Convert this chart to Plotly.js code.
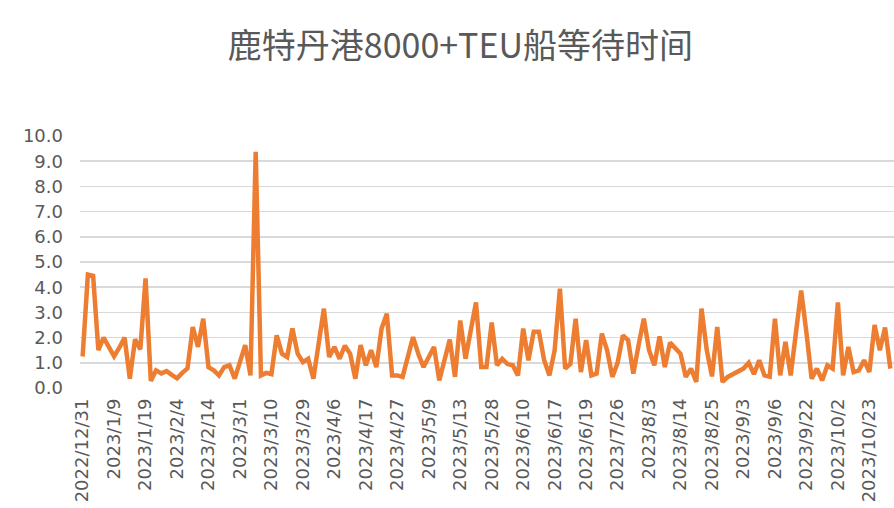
<!DOCTYPE html>
<html>
<head>
<meta charset="utf-8">
<script src="https://cdn.plot.ly/plotly-3.0.1.min.js"></script>
<style>
  html, body { margin: 0; padding: 0; background: #ffffff; overflow: hidden; }
  #chart { width: 894px; height: 508px; }
</style>
</head>
<body>
<div id="chart"></div>
<script>
// Tick labels shown on the category axis (every 6th observation)
const tickLabels = [
  "2022/12/31", "2023/1/9", "2023/1/19", "2023/2/4", "2023/2/14", "2023/3/1",
  "2023/3/10", "2023/3/29", "2023/4/6", "2023/4/17", "2023/4/27", "2023/5/9",
  "2023/5/13", "2023/5/28", "2023/6/10", "2023/6/17", "2023/6/19", "2023/7/26",
  "2023/8/3", "2023/8/14", "2023/8/25", "2023/9/3", "2023/9/6", "2023/9/22",
  "2023/10/2", "2023/10/23"
];
const labelEvery = 6;

// Waiting time (days) of 8000+TEU vessels at Rotterdam
const waitDays = [
  1.25, 4.5, 4.45, 1.5, 2.0, 1.65, 1.26, 1.6, 2.0, 0.37,
  1.93, 1.53, 4.35, 0.28, 0.7, 0.58, 0.67, 0.52, 0.38, 0.6,
  0.78, 2.42, 1.63, 2.75, 0.83, 0.7, 0.5, 0.83, 0.9, 0.37,
  1.0, 1.7, 0.5, 9.37, 0.5, 0.6, 0.55, 2.09, 1.36, 1.23,
  2.36, 1.36, 1.03, 1.16, 0.37, 1.7, 3.15, 1.23, 1.63, 1.16,
  1.68, 1.36, 0.37, 1.7, 0.9, 1.5, 0.83, 2.36, 2.95, 0.5,
  0.5, 0.44, 1.23, 2.02, 1.36, 0.83, 1.23, 1.63, 0.3, 1.1,
  1.92, 0.44, 2.68, 1.16, 2.36, 3.4, 0.83, 0.83, 2.6, 0.9,
  1.16, 0.95, 0.9, 0.5, 2.36, 1.1, 2.23, 2.23, 1.1, 0.5,
  1.5, 3.94, 0.77, 0.96, 2.75, 0.63, 1.9, 0.5, 0.57, 2.16,
  1.5, 0.44, 1.0, 2.09, 1.9, 0.57, 1.7, 2.75, 1.5, 0.9,
  2.05, 0.83, 1.8, 1.6, 1.36, 0.44, 0.77, 0.24, 3.15, 1.5,
  0.46, 2.42, 0.24, 0.44, 0.55, 0.63, 0.77, 1.0, 0.55, 1.1,
  0.5, 0.45, 2.75, 0.5, 1.83, 0.5, 2.15, 3.87, 2.2, 0.37,
  0.77, 0.3, 0.9, 0.77, 3.4, 0.5, 1.63, 0.63, 0.7, 1.1,
  0.63, 2.5, 1.5, 2.4, 0.77
];

const titleText = "鹿特丹港8000+TEU船等待时间";

const xIdx = waitDays.map((_, i) => i);
const tickVals = tickLabels.map((_, k) => k * labelEvery);

const trace = {
  x: xIdx,
  y: waitDays,
  type: "scatter",
  mode: "lines",
  line: { color: "#ED7D31", width: 4.5, shape: "linear" },
  hoverinfo: "y"
};

const layout = {
  width: 894,
  height: 508,
  paper_bgcolor: "#ffffff",
  plot_bgcolor: "#ffffff",
  margin: { l: 80, r: 0, t: 136, b: 120, pad: 0 },
  showlegend: false,
  title: {
    text: titleText,
    font: { family: "Noto Sans CJK SC, Noto Sans, sans-serif", size: 34, color: "#595959" },
    xref: "container", x: 0.515, xanchor: "center",
    yref: "container", y: 0.91, yanchor: "middle"
  },
  xaxis: {
    range: [-0.5, 154.7],
    tickmode: "array",
    tickvals: tickVals,
    ticktext: tickLabels,
    tickangle: -90,
    ticks: "",
    showgrid: false,
    zeroline: false,
    showline: false,
    tickfont: { family: "DejaVu Sans, sans-serif", size: 18, color: "#595959" },
    ticklabelstandoff: 6
  },
  yaxis: {
    range: [0, 10],
    dtick: 1,
    tick0: 0,
    tickformat: ".1f",
    showgrid: true,
    gridcolor: "#d9d9d9",
    gridwidth: 1.5,
    zeroline: false,
    showline: false,
    ticks: "",
    tickfont: { family: "DejaVu Sans, sans-serif", size: 18, color: "#595959" },
    ticklabelstandoff: 16
  }
};

Plotly.newPlot("chart", [trace], layout, { displayModeBar: false, staticPlot: true });
</script>
</body>
</html>
